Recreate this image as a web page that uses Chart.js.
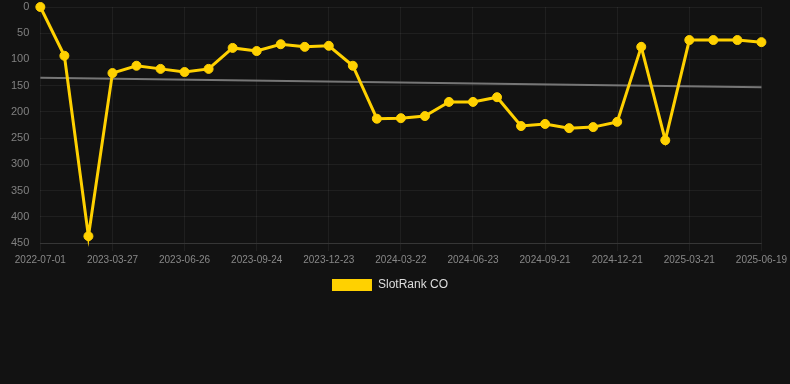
<!DOCTYPE html>
<html>
<head>
<meta charset="utf-8">
<script src="https://cdn.jsdelivr.net/npm/chart.js@4/dist/chart.umd.min.js"></script>
<style>
  html, body { margin: 0; padding: 0; background: #121212; }
  #wrap { width: 790px; height: 301px; position: relative; }
</style>
</head>
<body>
<div id="wrap"><canvas id="c"></canvas></div>
<script>
const categories = [
  "2022-07-01","2022-10-01","2023-01-01","2023-03-27","2023-04-26","2023-05-27",
  "2023-06-26","2023-07-26","2023-08-25","2023-09-24","2023-10-24","2023-11-23",
  "2023-12-23","2024-01-22","2024-02-21","2024-03-22","2024-04-22","2024-05-23",
  "2024-06-23","2024-07-23","2024-08-22","2024-09-21","2024-10-21","2024-11-21",
  "2024-12-21","2025-01-20","2025-02-19","2025-03-21","2025-04-20","2025-05-20",
  "2025-06-19"
];
const rankValues = [
  0, 93, 437, 126, 112, 118,
  124, 118, 78, 84, 71, 76,
  74, 112, 213, 212, 208, 181,
  181, 172, 227, 223, 231, 229,
  219, 76, 254, 63, 63, 63,
  67
];
const trendStart = 135;
const trendEnd = 153;
const yTicks = [0, 50, 100, 150, 200, 250, 300, 350, 400, 450];

const trendValues = categories.map((_, i) =>
  i === 0 ? trendStart : (i === categories.length - 1 ? trendEnd : null));

const defaultLabels = Chart.defaults.plugins.legend.labels.generateLabels;

new Chart(document.getElementById('c'), {
  type: 'line',
  data: {
    labels: categories,
    datasets: [
      {
        label: 'SlotRank CO',
        data: rankValues,
        borderColor: '#FFD100',
        backgroundColor: '#FFD100',
        borderWidth: 3,
        pointRadius: 4.5,
        pointHoverRadius: 4.5,
        pointBackgroundColor: '#FFD100',
        pointBorderColor: '#FFD100',
        pointBorderWidth: 1,
        tension: 0,
        clip: false,
        order: 1
      },
      {
        label: 'trend',
        data: trendValues,
        borderColor: 'rgba(130,130,130,0.9)',
        borderWidth: 2,
        pointRadius: 0,
        spanGaps: true,
        order: 2
      }
    ]
  },
  options: {
    responsive: true,
    maintainAspectRatio: false,
    animation: false,
    layout: { autoPadding: false, padding: { top: 0, left: 0, right: 10, bottom: 0 } },
    plugins: {
      legend: {
        position: 'bottom',
        labels: {
          color: '#dddddd',
          font: { family: 'Arial, "Liberation Sans", sans-serif', size: 12 },
          boxWidth: 40,
          boxHeight: 12,
          generateLabels: (chart) => defaultLabels(chart)
            .filter(l => l.text !== 'trend')
            .map(l => Object.assign(l, { lineWidth: 0 }))
        }
      },
      tooltip: { enabled: false }
    },
    scales: {
      x: {
        grid: { color: 'rgba(255,255,255,0.06)', drawTicks: true, tickLength: 8 },
        border: { color: 'rgba(255,255,255,0.1)' },
        ticks: {
          color: '#888888',
          font: { family: 'Arial, "Liberation Sans", sans-serif', size: 10 },
          maxRotation: 0,
          autoSkip: true,
          maxTicksLimit: 11
        }
      },
      y: {
        reverse: true,
        min: 0,
        max: 450,
        afterBuildTicks: (axis) => { axis.ticks = yTicks.map(v => ({ value: v })); },
        afterFit: (axis) => { axis.paddingTop = 7; },
        grid: { color: 'rgba(255,255,255,0.06)', drawTicks: false },
        border: { display: false },
        ticks: {
          color: '#808080',
          padding: 11,
          font: { family: 'Arial, "Liberation Sans", sans-serif', size: 11 }
        }
      }
    }
  }
});
</script>
</body>
</html>
